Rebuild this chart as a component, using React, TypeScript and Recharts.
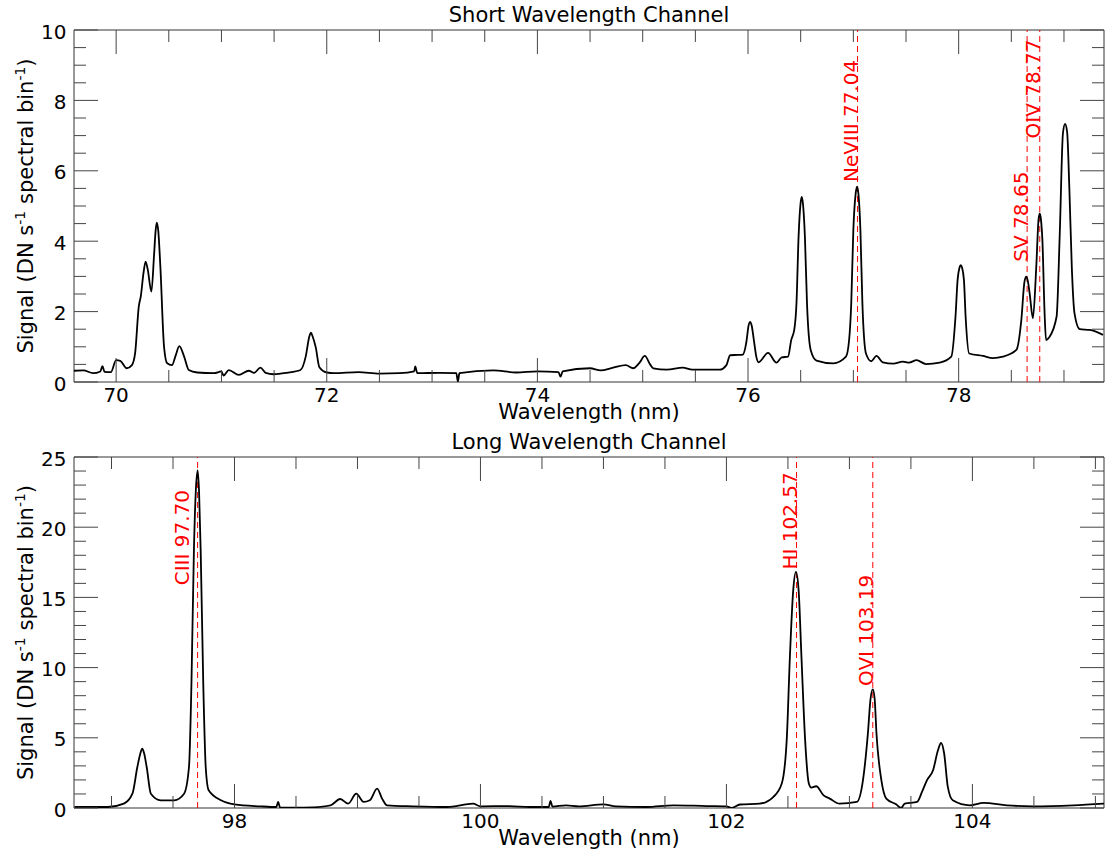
import React from 'react';
import {
  LineChart,
  Line,
  XAxis,
  YAxis,
  ReferenceLine,
  ReferenceDot,
  ReferenceArea,
} from 'recharts';

// Short wavelength channel spectrum (nm, DN/s/bin)
const shortWavelength = [
  69.6, 69.69, 69.78, 69.85, 69.87, 69.89, 69.95, 70.0, 70.04, 70.1, 70.15, 70.18, 70.215, 70.235,
  70.26, 70.28, 70.3, 70.335, 70.36, 70.375, 70.386, 70.4, 70.42, 70.455, 70.485, 70.53, 70.565,
  70.6, 70.645, 70.69, 70.77, 70.93, 71.0, 71.02, 71.07, 71.165, 71.26, 71.31, 71.37, 71.42, 71.495,
  71.62, 71.75, 71.8, 71.835, 71.85, 71.865, 71.895, 71.93, 72.0, 72.07, 72.3, 72.5, 72.69, 72.83,
  72.84, 72.86, 73.07, 73.23, 73.245, 73.26, 73.58, 73.8, 74.0, 74.2, 74.22, 74.24, 74.5, 74.6,
  74.72, 74.84, 74.91, 74.97, 75.02, 75.07, 75.1, 75.23, 75.38, 75.47, 75.73, 75.795, 75.83, 75.9,
  75.95, 75.985, 76.005, 76.02, 76.035, 76.055, 76.08, 76.1, 76.19, 76.27, 76.32, 76.38, 76.41,
  76.44, 76.46, 76.48, 76.498, 76.51, 76.522, 76.54, 76.56, 76.595, 76.65, 76.81, 76.93, 76.96,
  76.98, 77.0, 77.022, 77.035, 77.048, 77.067, 77.086, 77.12, 77.17, 77.22, 77.28, 77.38, 77.47,
  77.53, 77.6, 77.69, 77.82, 77.93, 77.97, 77.99, 78.008, 78.02, 78.032, 78.05, 78.066, 78.1, 78.23,
  78.325, 78.42, 78.548, 78.595, 78.625, 78.642, 78.658, 78.674, 78.705, 78.737, 78.758, 78.77,
  78.782, 78.795, 78.816, 78.83, 78.86, 78.93, 78.96, 78.99, 79.01, 79.03, 79.05, 79.075, 79.1,
  79.15, 79.245, 79.37,
];
const shortSignal = [
  0.32, 0.33, 0.25, 0.3, 0.45, 0.29, 0.28, 0.62, 0.6, 0.39, 0.48, 0.81, 2.14, 2.45,
  3.1, 3.42, 3.2, 2.57, 3.6, 4.3, 4.53, 4.3, 3.28, 1.0, 0.53, 0.48, 0.75,
  1.02, 0.73, 0.34, 0.27, 0.25, 0.3, 0.18, 0.34, 0.2, 0.32, 0.26, 0.41, 0.26, 0.22,
  0.26, 0.34, 0.72, 1.3, 1.4, 1.3, 0.99, 0.42, 0.27, 0.25, 0.28, 0.24, 0.25, 0.3,
  0.44, 0.25, 0.26, 0.25, 0.01, 0.25, 0.33, 0.27, 0.3, 0.28, 0.15, 0.3, 0.39, 0.33,
  0.41, 0.48, 0.39, 0.55, 0.74, 0.5, 0.39, 0.35, 0.41, 0.35, 0.35, 0.48, 0.76, 0.77,
  0.78, 1.15, 1.6, 1.71, 1.6, 1.2, 0.7, 0.56, 0.83, 0.55, 0.7, 0.72, 1.19,
  1.5, 2.23, 4.13, 5.05, 5.26, 5.05, 4.13, 2.23, 0.91, 0.61, 0.53, 0.72, 1.2,
  2.23, 4.32, 5.35, 5.55, 5.35, 4.32, 2.23, 0.81, 0.59, 0.74, 0.56, 0.52, 0.58,
  0.55, 0.62, 0.51, 0.55, 0.72, 1.86, 2.9, 3.25, 3.32, 3.25, 2.9, 1.86, 0.81, 0.74,
  0.68, 0.72, 0.91, 1.76, 2.85, 2.99, 2.85, 2.52, 1.81, 3.28, 4.6, 4.79,
  4.6, 4.03, 1.95, 1.19, 1.27, 1.86, 4.22, 7.06, 7.33, 7.1, 5.6, 3.2, 1.95,
  1.5, 1.48, 1.34,
];

// Long wavelength channel spectrum
const longWavelength = [
  96.7, 96.97, 97.1, 97.17, 97.21, 97.235, 97.25, 97.265, 97.286, 97.32, 97.4, 97.51, 97.59, 97.63,
  97.65, 97.67, 97.685, 97.7, 97.712, 97.725, 97.746, 97.766, 97.79, 97.89, 98.0, 98.21, 98.34,
  98.355, 98.37, 98.48, 98.64, 98.78, 98.86, 98.925, 98.99, 99.05, 99.1, 99.16, 99.2, 99.24, 99.45,
  99.73, 99.94, 100.0, 100.23, 100.4, 100.555, 100.57, 100.585, 100.695, 100.8, 101.0, 101.1,
  101.35, 101.57, 101.84, 102.0, 102.04, 102.11, 102.27, 102.38, 102.45, 102.49, 102.516, 102.543,
  102.565, 102.587, 102.61, 102.64, 102.67, 102.69, 102.73, 102.79, 102.84, 102.92, 103.06, 103.11,
  103.15, 103.172, 103.19, 103.205, 103.22, 103.26, 103.3, 103.38, 103.42, 103.45, 103.55, 103.59,
  103.63, 103.68, 103.72, 103.745, 103.77, 103.8, 103.84, 103.98, 104.09, 104.28, 104.49, 104.82,
  105.07,
];
const longSignal = [
  0.07, 0.07, 0.31, 1.02, 2.92, 3.9, 4.23, 3.9, 2.92, 1.02, 0.55, 0.55, 1.02, 2.92,
  8.86, 18.35, 22.5, 24.05, 22.5, 18.35, 8.86, 2.92, 1.26, 0.55, 0.26, 0.12, 0.07,
  0.43, 0.05, 0.02, 0.05, 0.19, 0.64, 0.31, 1.02, 0.43, 0.55, 1.38, 0.67, 0.19, 0.12,
  0.07, 0.31, 0.12, 0.14, 0.07, 0.07, 0.5, 0.1, 0.19, 0.12, 0.26, 0.12,
  0.07, 0.19, 0.14, 0.12, 0.0, 0.25, 0.31, 0.78, 1.74, 4.82, 10.76, 15.5,
  16.81, 15.5, 10.76, 4.82, 1.74, 1.45, 1.55, 0.9, 0.67, 0.31, 0.43, 1.97,
  5.3, 7.8, 8.45, 7.8, 5.3, 1.97, 0.67, 0.26, 0.0, 0.31, 0.43, 1.14,
  1.97, 2.69, 4.11, 4.63, 3.9, 1.5, 0.55, 0.19, 0.36, 0.19, 0.12, 0.19,
  0.31,
];

// Line identifications
const shortLineNames = ['NeVIII 77.04', 'SV 78.65', 'OIV 78.77'];
const shortLineWavelengths = [77.04, 78.65, 78.77];
const longLineNames = ['CIII 97.70', 'HI 102.57', 'OVI 103.19'];
const longLineWavelengths = [97.7, 102.57, 103.19];

// Where each rotated label starts (signal units) and its sideways nudge (px)
const shortLabelAt = [5.68, 3.42, 6.92];
const shortLabelNudge = [0.5, 0.5, 0.5];
const longLabelAt = [15.86, 16.98, 8.69];
const longLabelNudge = [-9, 0.5, 0.5];

// Axis ticks
const shortXMajor = [70, 72, 74, 76, 78];
const shortYMajor = [0, 2, 4, 6, 8, 10];
const longXMajor = [98, 100, 102, 104];
const longYMajor = [0, 5, 10, 15, 20, 25];

const FONT = '"DejaVu Sans", Verdana, sans-serif';
const WIDTH = 1105;
const MARGIN_RIGHT = 1;
const PLOT_TOP = 30;
const MAJOR_LEN = 24;
const MINOR_LEN = 12;

function range(from: number, to: number, step: number) {
  const out: number[] = [];
  for (let v = from; v <= to + 1e-9; v += step) out.push(Math.round(v * 100) / 100);
  return out;
}

function makeXTick(major: number[], plotTop: number) {
  return (props: any) => {
    const { x, y, payload } = props;
    const isMajor = major.includes(payload.value);
    const len = isMajor ? MAJOR_LEN : MINOR_LEN;
    return (
      <g>
        <line x1={x} x2={x} y1={y} y2={y - len} stroke="#444" strokeWidth={1} />
        <line x1={x} x2={x} y1={plotTop} y2={plotTop + len} stroke="#444" strokeWidth={1} />
        {isMajor && (
          <text x={x} y={y + 20} textAnchor="middle" fontSize={20} fontFamily={FONT} fill="#000">
            {payload.value}
          </text>
        )}
      </g>
    );
  };
}

function makeYTick(major: number[], plotRight: number) {
  return (props: any) => {
    const { x, y, payload } = props;
    const isMajor = major.includes(payload.value);
    const len = isMajor ? MAJOR_LEN : MINOR_LEN;
    return (
      <g>
        <line x1={x} x2={x + len} y1={y} y2={y} stroke="#444" strokeWidth={1} />
        <line x1={plotRight} x2={plotRight - len} y1={y} y2={y} stroke="#444" strokeWidth={1} />
        {isMajor && (
          <text x={x - 7.5} y={y + 8.5} textAnchor="end" fontSize={20} fontFamily={FONT} fill="#000">
            {payload.value}
          </text>
        )}
      </g>
    );
  };
}

function YTitle(props: any) {
  const vb = props.viewBox || {};
  const cx = 32.5;
  const cy = vb.y + vb.height / 2;
  return (
    <text
      x={cx}
      y={cy}
      transform={`rotate(-90 ${cx} ${cy})`}
      textAnchor="middle"
      fontSize={21}
      fontFamily={FONT}
      fill="#000"
    >
      Signal (DN s
      <tspan dy={-8} fontSize={14}>-1</tspan>
      <tspan dy={8}> spectral bin</tspan>
      <tspan dy={-8} fontSize={14}>-1</tspan>
      <tspan dy={8}>)</tspan>
    </text>
  );
}

function XTitle(props: any) {
  const vb = props.viewBox || {};
  return (
    <text
      x={vb.x + vb.width / 2}
      y={vb.y + 37}
      textAnchor="middle"
      fontSize={21}
      fontFamily={FONT}
      fill="#000"
    >
      Wavelength (nm)
    </text>
  );
}

function makeTitle(title: string) {
  return (props: any) => {
    const vb = props.viewBox || {};
    return (
      <text
        x={vb.x + vb.width / 2}
        y={vb.y - 8}
        textAnchor="middle"
        fontSize={21}
        fontFamily={FONT}
        fill="#000"
      >
        {title}
      </text>
    );
  };
}

function makeLineLabel(text: string, nudge: number) {
  return (props: any) => {
    const x = props.cx + nudge;
    const y = props.cy;
    return (
      <text
        x={x}
        y={y}
        transform={`rotate(-90 ${x} ${y})`}
        textAnchor="start"
        fontSize={20}
        fontFamily={FONT}
        fill="#ff0000"
      >
        {text}
      </text>
    );
  };
}

interface PanelProps {
  title: string;
  wavelength: number[];
  signal: number[];
  xDomain: [number, number];
  yDomain: [number, number];
  xMajor: number[];
  yMajor: number[];
  yMinorStep: number;
  lineNames: string[];
  lineWavelengths: number[];
  labelAt: number[];
  labelNudge: number[];
  height: number;
  axisHeight: number;
}

function SpectrumPanel({
  title,
  wavelength,
  signal,
  xDomain,
  yDomain,
  xMajor,
  yMajor,
  yMinorStep,
  lineNames,
  lineWavelengths,
  labelAt,
  labelNudge,
  height,
  axisHeight,
}: PanelProps) {
  const data = wavelength.map((w, i) => ({ w, s: signal[i] }));
  const xTicks = range(Math.ceil(xDomain[0] * 2) / 2, xDomain[1], 0.5);
  const yTicks = range(yDomain[0], yDomain[1], yMinorStep);
  const plotRight = WIDTH - MARGIN_RIGHT;

  return (
    <LineChart
      width={WIDTH}
      height={height}
      data={data}
      margin={{ top: PLOT_TOP, right: MARGIN_RIGHT, bottom: 0, left: 0 }}
    >
      <XAxis
        dataKey="w"
        type="number"
        domain={xDomain}
        allowDataOverflow
        ticks={xTicks}
        interval={0}
        tickSize={0}
        tickMargin={0}
        tickLine={false}
        axisLine={false}
        height={axisHeight}
        tick={makeXTick(xMajor, PLOT_TOP)}
        label={{ content: XTitle }}
      />
      <YAxis
        type="number"
        domain={yDomain}
        allowDataOverflow
        ticks={yTicks}
        interval={0}
        tickSize={0}
        tickMargin={0}
        tickLine={false}
        axisLine={false}
        width={74}
        tick={makeYTick(yMajor, plotRight)}
        label={{ content: YTitle }}
      />
      <ReferenceArea
        x1={xDomain[0]}
        x2={xDomain[1]}
        y1={yDomain[0]}
        y2={yDomain[1]}
        fill="none"
        stroke="#333"
        strokeWidth={1}
        label={{ content: makeTitle(title) }}
      />
      {lineWavelengths.map((lw, i) => (
        <ReferenceLine
          key={`rl-${i}`}
          x={lw}
          stroke="#ff0000"
          strokeWidth={1}
          strokeDasharray="6 4"
        />
      ))}
      <Line
        type="monotone"
        dataKey="s"
        stroke="#000"
        strokeWidth={1.8}
        dot={false}
        activeDot={false}
        isAnimationActive={false}
      />
      {lineWavelengths.map((lw, i) => (
        <ReferenceDot
          key={`lbl-${i}`}
          x={lw}
          y={labelAt[i]}
          r={0}
          shape={makeLineLabel(lineNames[i], labelNudge[i])}
        />
      ))}
    </LineChart>
  );
}

export default function App() {
  return (
    <div
      style={{
        position: 'absolute',
        left: 0,
        top: 0,
        width: WIDTH,
        height: 854,
        background: '#fff',
        fontFamily: FONT,
      }}
    >
      <div style={{ position: 'absolute', left: 0, top: 0 }}>
        <SpectrumPanel
          title="Short Wavelength Channel"
          wavelength={shortWavelength}
          signal={shortSignal}
          xDomain={[69.6, 79.38]}
          yDomain={[0, 10]}
          xMajor={shortXMajor}
          yMajor={shortYMajor}
          yMinorStep={0.5}
          lineNames={shortLineNames}
          lineWavelengths={shortLineWavelengths}
          labelAt={shortLabelAt}
          labelNudge={shortLabelNudge}
          height={430}
          axisHeight={48}
        />
      </div>
      <div style={{ position: 'absolute', left: 0, top: 427 }}>
        <SpectrumPanel
          title="Long Wavelength Channel"
          wavelength={longWavelength}
          signal={longSignal}
          xDomain={[96.695, 105.07]}
          yDomain={[0, 25]}
          xMajor={longXMajor}
          yMajor={longYMajor}
          yMinorStep={1}
          lineNames={longLineNames}
          lineWavelengths={longLineWavelengths}
          labelAt={longLabelAt}
          labelNudge={longLabelNudge}
          height={427}
          axisHeight={46}
        />
      </div>
    </div>
  );
}
